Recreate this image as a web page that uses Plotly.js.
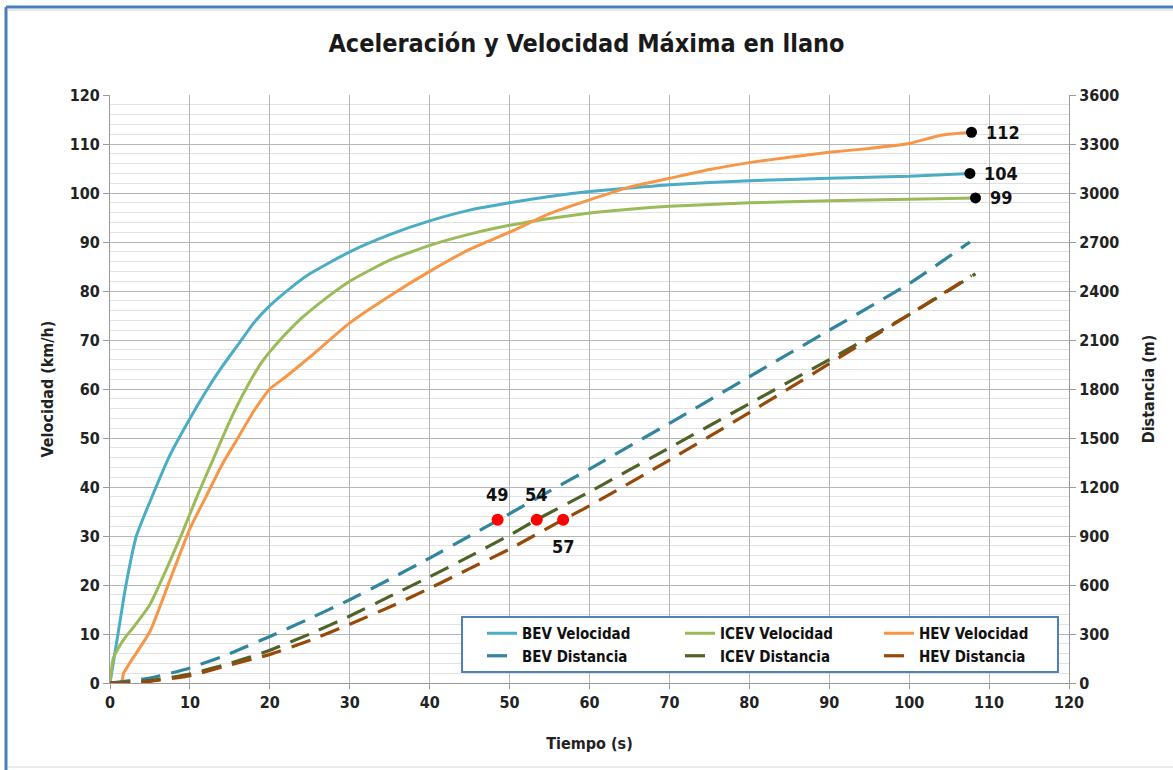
<!DOCTYPE html>
<html>
<head>
<meta charset="utf-8">
<script src="https://cdn.plot.ly/plotly-3.0.1.min.js"></script>
<style>html,body{margin:0;padding:0;background:#fff;}#chart{width:1173px;height:770px;}</style>
</head>
<body>
<div id="chart"></div>
<script>
// ---- Data ----
const tBEV = [0, 0.5, 1, 2, 3.3, 5, 7.5, 10, 12, 14, 16, 18, 20, 22.5, 25, 30, 35, 40, 45, 50, 55, 60, 65, 70, 80, 90, 100, 107.6];
const vBEV = [0, 5, 10, 20, 30, 37, 46.5, 54, 59.5, 64.5, 69, 73.5, 77, 80.5, 83.5, 88, 91.5, 94.3, 96.5, 98, 99.3, 100.3, 101, 101.7, 102.5, 103, 103.4, 104];

const tICEV = [0, 0.4, 1, 2, 3, 5, 7, 9, 11, 13, 15, 17, 19, 21, 24, 27, 30, 35, 40, 45, 50, 55, 60, 65, 70, 80, 90, 100, 108.3];
const vICEV = [0, 5, 7, 9.5, 11.5, 16, 23, 30.5, 38.5, 46, 53.5, 60, 65.5, 69.5, 74.5, 78.5, 82, 86.3, 89.3, 91.6, 93.4, 94.8, 95.9, 96.7, 97.3, 98, 98.4, 98.7, 99];

const tHEV = [0, 1.4, 1.7, 5, 7.5, 10, 12, 14, 16, 18, 20, 22, 25, 30, 35, 40, 45, 50, 55, 60, 65, 70, 75, 80, 85, 90, 95, 100, 104, 107.8];
const vHEV = [0, 0, 2, 10.5, 21, 31.5, 38, 44.5, 50, 55.5, 60, 62.5, 66.5, 73.5, 79, 84, 88.5, 92, 95.8, 98.6, 101.2, 103, 104.8, 106.2, 107.3, 108.3, 109.1, 110.1, 111.8, 112.4];

const tdBEV = [0, 5, 10, 15, 20, 25, 30, 35, 40, 45, 48.5, 55, 60, 70, 80, 90, 100, 107.6];
const dBEV = [0, 30, 92, 180, 285, 395, 510, 635, 765, 900, 995, 1175, 1310, 1590, 1875, 2160, 2445, 2700];

const tdICEV = [0, 5, 10, 15, 20, 25, 30, 35, 40, 45, 50, 53.4, 60, 70, 80, 90, 100, 108.3];
const dICEV = [0, 15, 55, 120, 200, 300, 410, 530, 650, 775, 905, 1000, 1170, 1440, 1710, 1980, 2255, 2505];

const tdHEV = [0, 1.5, 5, 10, 15, 20, 25, 30, 35, 40, 45, 50, 56.7, 60, 70, 80, 90, 100, 107.8];
const dHEV = [0, 0, 10, 45, 110, 175, 260, 360, 465, 580, 700, 820, 1000, 1085, 1365, 1655, 1955, 2255, 2495];

const endT = [107.6, 108.3, 107.8];
const endV = [104, 99, 112.4];
const endLabels = ['104', '99', '112'];

const km1000T = [48.5, 53.4, 56.7];
const km1000D = [1000, 1000, 1000];
const km1000Labels = ['49', '54', '57'];
const km1000Above = [true, true, false];

const names = ['BEV Velocidad', 'ICEV Velocidad', 'HEV Velocidad', 'BEV Distancia', 'ICEV Distancia', 'HEV Distancia'];

// ---- Styles ----
const FONT = "'Liberation Sans Narrow', 'Arial Narrow', 'DejaVu Sans Condensed', 'DejaVu Sans', sans-serif";
const cBEV = '#4bacc6', cICEV = '#9bbb59', cHEV = '#f79646';
const cdBEV = '#31859c', cdICEV = '#4f6228', cdHEV = '#984807';
const DASH = '20px,11px';
const SM = {shape: 'spline', smoothing: 0.5};

const traces = [
  {x: tBEV, y: vBEV, name: names[0], mode: 'lines', line: Object.assign({color: cBEV, width: 3}, SM), legend: 'legend'},
  {x: tdBEV, y: dBEV, name: names[3], mode: 'lines', yaxis: 'y2', line: Object.assign({color: cdBEV, width: 3.2, dash: DASH}, SM), legend: 'legend'},
  {x: tICEV, y: vICEV, name: names[1], mode: 'lines', line: Object.assign({color: cICEV, width: 3}, SM), legend: 'legend2'},
  {x: tdICEV, y: dICEV, name: names[4], mode: 'lines', yaxis: 'y2', line: Object.assign({color: cdICEV, width: 3.2, dash: DASH}, SM), legend: 'legend2'},
  {x: tHEV, y: vHEV, name: names[2], mode: 'lines', line: Object.assign({color: cHEV, width: 3}, SM), legend: 'legend3'},
  {x: tdHEV, y: dHEV, name: names[5], mode: 'lines', yaxis: 'y2', line: Object.assign({color: cdHEV, width: 3.2, dash: DASH}, SM), legend: 'legend3'},
  {x: endT, y: endV, mode: 'markers', marker: {color: '#000', size: 11}, showlegend: false, hoverinfo: 'skip'},
  {x: km1000T, y: km1000D, yaxis: 'y2', mode: 'markers', marker: {color: '#ff0000', size: 12}, showlegend: false, hoverinfo: 'skip'}
];

const tickFont = {family: FONT, size: 16, color: '#222', weight: 'bold'};
const titleFont = {family: FONT, size: 16, color: '#222', weight: 'bold'};
const legFont = {family: FONT, size: 15, color: '#111', weight: 'bold'};
const labFont = {family: FONT, size: 18, color: '#111', weight: 'bold'};

function px2x(px) { return (px - 110) / 959; }
function py2y(py) { return (683 - py) / 588; }

const annotations = [];
endT.forEach((t, i) => annotations.push({x: t, y: endV[i], xref: 'x', yref: 'y', text: endLabels[i], showarrow: false,
  xanchor: 'left', yanchor: 'middle', xshift: 12, font: labFont}));
km1000T.forEach((t, i) => annotations.push({x: t, y: km1000D[i], xref: 'x', yref: 'y2', text: km1000Labels[i], showarrow: false,
  xanchor: 'center', yanchor: 'middle', yshift: km1000Above[i] ? 25 : -27, font: labFont}));

const legBase = {orientation: 'v', bgcolor: 'rgba(0,0,0,0)', borderwidth: 0, font: legFont,
                 xanchor: 'left', yanchor: 'top', y: py2y(617), tracegroupgap: 0};

const layout = {
  width: 1173, height: 770,
  paper_bgcolor: '#fff', plot_bgcolor: '#fff',
  margin: {l: 110, r: 104, t: 95, b: 87},
  font: {family: FONT},
  title: {text: 'Aceleración y Velocidad Máxima en llano', x: 0.5, xanchor: 'center', y: 1 - 43 / 770, yanchor: 'middle',
          font: {family: FONT, size: 25, color: '#1a1a1a', weight: 'bold'}},
  xaxis: {range: [0, 120], dtick: 10, tick0: 0, showgrid: true, gridcolor: '#b5b5b5', gridwidth: 1,
          zeroline: false, showline: true, linecolor: '#9a9a9a', ticks: 'outside', ticklen: 5, tickcolor: '#9a9a9a',
          tickfont: tickFont, title: {text: 'Tiempo (s)', font: titleFont, standoff: 26}},
  yaxis: {range: [0, 120], dtick: 10, tick0: 0, showgrid: true, gridcolor: '#b5b5b5', gridwidth: 1,
          zeroline: false, showline: true, linecolor: '#9a9a9a', ticks: 'outside', ticklen: 6, tickcolor: '#9a9a9a',
          minor: {dtick: 2, showgrid: true, gridcolor: '#e2e2e2', gridwidth: 1},
          tickfont: tickFont, title: {text: 'Velocidad (km/h)', font: titleFont, standoff: 12}},
  yaxis2: {range: [0, 3600], dtick: 300, tick0: 0, overlaying: 'y', side: 'right', showgrid: false,
           zeroline: false, showline: true, linecolor: '#9a9a9a', ticks: 'outside', ticklen: 6, tickcolor: '#9a9a9a',
           tickfont: tickFont, title: {text: 'Distancia (m)', font: titleFont, standoff: 24}},
  showlegend: true,
  legend: Object.assign({}, legBase, {x: px2x(482)}),
  legend2: Object.assign({}, legBase, {x: px2x(680)}),
  legend3: Object.assign({}, legBase, {x: px2x(879)}),
  annotations: annotations,
  shapes: [
    {type: 'rect', xref: 'paper', yref: 'paper', x0: px2x(462), x1: px2x(1058), y0: py2y(672), y1: py2y(617),
     line: {color: '#4f81bd', width: 2}, fillcolor: '#ffffff', layer: 'above'},
    // outer chart frame: blue on top and left, faint grey at the bottom
    {type: 'line', xref: 'paper', yref: 'paper', x0: px2x(6), x1: px2x(1173), y0: py2y(7), y1: py2y(7),
     line: {color: '#4a7ebb', width: 3}, layer: 'below'},
    {type: 'line', xref: 'paper', yref: 'paper', x0: px2x(6), x1: px2x(6), y0: py2y(7), y1: py2y(770),
     line: {color: '#4a7ebb', width: 3}, layer: 'below'},
    {type: 'line', xref: 'paper', yref: 'paper', x0: px2x(8), x1: px2x(1173), y0: py2y(10), y1: py2y(10),
     line: {color: '#d0d0d0', width: 1}, layer: 'below'},
    {type: 'line', xref: 'paper', yref: 'paper', x0: px2x(8), x1: px2x(1173), y0: py2y(767), y1: py2y(767),
     line: {color: '#d8d8d8', width: 1}, layer: 'below'}
  ]
};

Plotly.newPlot('chart', traces, layout, {displayModeBar: false, staticPlot: true});
</script>
</body>
</html>
